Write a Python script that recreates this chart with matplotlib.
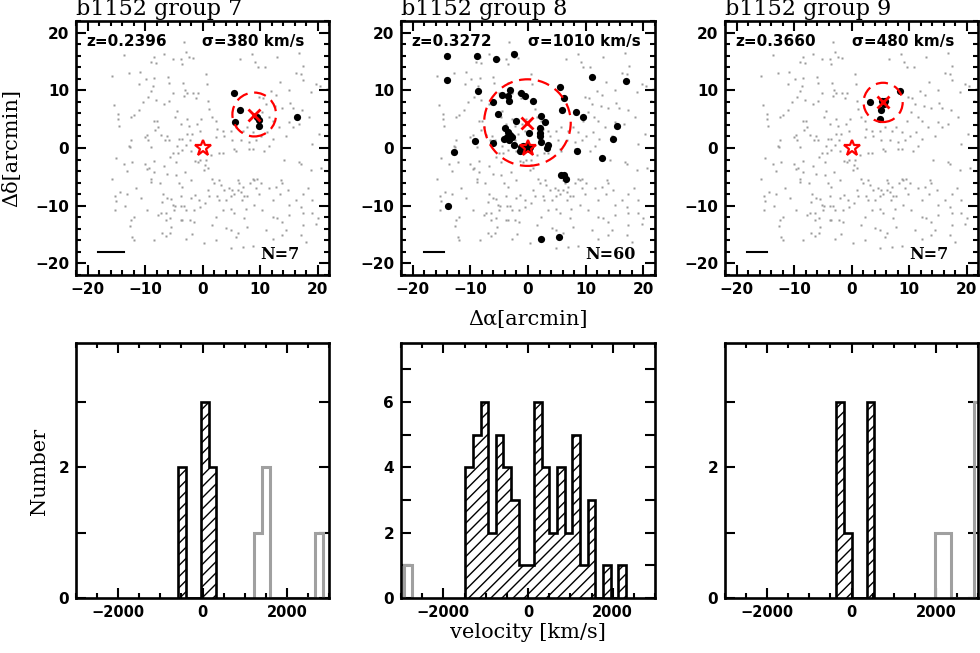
import numpy as np
import matplotlib
matplotlib.use("Agg")
import matplotlib.pyplot as plt
from matplotlib.patches import Circle
from matplotlib.ticker import MultipleLocator, FuncFormatter

# ---------------- data ----------------
bg_ra = [-3.3,-13.7,-6.7,-8.4,-9.0,-8.1,-5.1,-3.8,-2.8,-2.4,-1.7,-3.5,-15.7,-12.8,-10.8,-9.9,-8.4,-6.0,-5.9,-11.0,
         -8.6,-8.9,-9.4,-8.1,-6.7,-5.9,-5.1,-3.4,-3.0,-3.2,-2.7,-1.7,-0.8,-1.2,-15.4,-14.7,-14.7,-14.6,-12.5,-11.9,
         -11.1,-10.4,-8.5,-7.9,-7.7,-8.2,-9.6,-10.0,-9.5,-12.8,-7.3,-6.2,-5.8,-4.5,-4.7,-3.8,-2.7,-2.3,-2.7,-4.1,
         -3.5,-2.2,-1.8,-1.0,-0.3,-0.5,-4.5,-2.8,-12.5,-6.6,
         8.6,9.2,9.6,10.8,16.8,6.5,13.0,17.5,16.2,17.2,13.5,17.4,19.7,15.0,18.9,20.5,21.6,11.9,12.8,9.9,
         10.6,11.1,12.6,13.9,15.7,15.2,17.3,18.6,21.3,9.6,10.4,11.5,12.2,13.3,15.1,16.7,12.3,11.3,10.1,8.7,
         7.8,7.0,5.8,4.9,3.5,2.6,3.8,2.3,5.2,6.7,8.1,9.3,11.6,14.5,15.7,0.6,0.9,1.2,1.6,2.3,0.7,19.1,20.3,
         -12.6,-8.9,-15.0,-12.2,-13.7,-10.0,-8.5,-9.3,-9.6,-13.1,-8.5,-6.7,-5.6,-4.6,-5.1,-4.3,-3.5,-2.0,-1.3,-0.4,
         -0.8,-15.7,-11.6,-8.9,-8.9,-7.4,-6.1,-4.6,-3.0,-2.0,-4.1,-3.5,-14.4,-15.3,-15.0,-13.2,-10.7,-6.8,-6.1,-5.5,
         -7.0,-5.2,-4.8,-3.8,-3.7,-3.2,-2.0,-1.3,-0.6,-15.3,-13.5,-9.6,-7.7,-7.3,-6.4,-5.0,-2.8,-1.5,-0.5,-12.4,
         -11.9,-12.6,-6.4,-5.6,-3.8,-3.5,-2.2,-1.5,-5.4,-7.0,-6.4,-5.7,-1.9,-2.8,-12.2,-11.9,-8.4,
         0.6,0.5,0.9,0.3,1.5,2.8,3.5,5.8,5.5,8.1,8.7,10.7,14.2,16.8,17.1,18.8,20.6,1.7,2.9,2.0,
         3.2,3.8,2.6,2.8,4.1,4.6,5.2,4.9,5.5,6.1,6.4,6.1,7.0,6.7,7.3,7.8,6.8,8.7,9.0,9.4,
         8.2,9.3,10.1,9.9,11.6,12.2,13.6,13.9,14.8,12.8,13.5,15.1,16.2,17.4,18.3,17.1,19.1,0.5,0.9,1.2,
         3.5,4.9,2.3,5.5,7.5,9.0,10.4,7.3,12.2,13.0,15.1,17.4,19.1,20.0,1.6,4.1,4.9,6.1,7.8,11.0,
         13.9,14.5,17.4,19.7,2.3,5.8,7.0,8.7,4.9,12.2,13.9,17.1,18.0,0.3]
bg_dec = [18.3,16.1,16.2,15.8,14.9,14.8,15.5,15.4,16.6,15.7,15.6,14.6,12.5,13.0,13.1,12.0,12.1,12.3,11.2,11.1,
          10.7,9.8,8.8,8.4,7.6,8.2,9.5,11.3,10.1,9.0,9.5,9.5,9.6,8.6,7.5,5.9,5.0,3.8,5.3,5.8,
          6.5,8.0,4.6,4.7,3.7,3.2,2.3,1.9,1.4,0.4,2.3,2.1,1.4,6.4,5.3,4.2,5.0,3.8,2.5,1.6,
          1.6,1.4,2.4,4.2,5.0,3.0,0.4,0.6,1.3,1.3,
          16.3,14.9,14.0,14.0,16.5,15.4,15.7,14.2,13.0,12.9,11.5,11.7,11.1,10.1,9.7,10.7,10.3,9.9,9.1,8.9,
          8.7,7.6,7.2,6.9,6.9,7.8,6.6,5.3,8.2,4.7,6.2,5.3,4.7,3.6,4.5,4.2,1.6,2.7,2.1,2.7,
          3.6,3.0,3.6,3.0,3.0,3.3,2.1,1.9,1.3,1.3,1.0,1.3,0.4,2.1,3.7,12.8,8.2,6.8,5.4,4.7,11.1,0.7,2.4,
          0.1,0.1,-1.7,-2.4,-2.8,-2.7,-2.2,-3.4,-3.7,-3.9,-4.1,-3.2,-1.5,-2.4,-0.9,-0.8,-0.4,-0.5,-2.2,-2.1,
          -2.4,-5.3,-7.0,-5.4,-5.9,-6.1,-4.5,-4.6,-4.1,-5.6,-6.1,-6.8,-7.6,-8.3,-9.1,-7.9,-8.6,-7.9,-8.6,-8.8,
          -9.3,-9.9,-10.1,-8.3,-10.1,-10.1,-8.6,-8.2,-9.0,-10.8,-10.1,-10.8,-11.6,-11.3,-11.2,-10.8,-10.8,-10.8,-10.2,-12.4,
          -12.0,-13.5,-12.4,-12.1,-12.5,-12.5,-12.4,-12.8,-13.7,-14.7,-15.3,-14.8,-14.9,-15.7,-15.4,-15.9,-15.9,
          -2.1,-3.0,-3.5,-3.8,-1.2,-0.8,-0.9,-0.6,-0.2,-0.1,-0.2,-0.6,-2.1,-2.4,-2.8,-3.8,-3.4,-5.3,-5.6,-6.1,
          -6.4,-7.3,-8.4,-9.0,-9.0,-7.0,-7.3,-8.4,-7.9,-5.6,-6.1,-7.3,-6.7,-7.6,-8.4,-8.4,-9.0,-5.3,-5.6,-5.3,
          -6.1,-7.0,-6.1,-7.9,-7.0,-9.0,-5.6,-6.1,-7.3,-6.7,-7.9,-9.9,-9.0,-7.9,-7.0,-10.2,-9.0,-9.6,-7.3,-8.4,
          -10.8,-10.5,-11.9,-11.3,-10.5,-9.9,-10.8,-12.2,-11.9,-12.2,-11.6,-11.3,-11.3,-12.2,-13.4,-13.9,-14.2,-14.8,-13.6,-14.2,
          -12.8,-14.2,-13.4,-13.1,-15.9,-15.4,-17.1,-17.0,-17.4,-15.7,-15.1,-15.1,-16.2,-16.5]

group_titles = ["b1152 group 7", "b1152 group 8", "b1152 group 9"]
redshifts = ["0.2396", "0.3272", "0.3660"]
sigmas = [380, 1010, 480]
n_members = [7, 60, 7]
center_ra = [9.0, -0.1, 5.5]
center_dec = [5.8, 4.4, 7.9]
radii = [3.8, 7.5, 3.4]
scale_bar_len = [4.4, 3.5, 3.4]

g7_ra = [5.4, 6.6, 5.6, 9.8, 9.9, 16.5, 9.4]
g7_dec = [9.5, 6.6, 4.5, 4.9, 3.8, 5.4, 5.3]
g8_ra = [-14.0,-8.8,-5.6,-2.5,-14.1,-8.7,11.1,17.0,-6.1,-4.5,-3.1,-3.4,-3.3,-1.2,-0.5,0.9,5.5,6.3,5.9,8.4,
         9.5,-5.2,-2.0,2.3,3.0,-3.9,-3.5,-3.1,-2.8,-4.1,-3.3,0.1,2.1,2.1,2.0,2.3,3.5,3.3,-2.4,-1.2,
         -0.8,-1.3,-0.2,-6.0,-9.2,-12.8,8.5,12.8,14.8,15.4,5.7,6.3,6.6,-13.9,2.2,5.3,0.1,-0.6,-3.7,0.4]
g8_dec = [16.0,15.9,15.4,16.2,11.8,9.9,12.3,11.6,7.9,9.1,10.0,9.0,8.1,9.6,9.0,8.2,10.6,8.7,6.6,6.2,
          5.4,5.9,4.6,5.5,4.5,3.5,2.7,2.3,1.9,1.6,1.4,2.6,3.4,2.6,2.1,1.0,0.5,0.0,0.5,0.2,
          0.4,-0.6,0.4,0.8,1.2,-0.7,-0.6,-1.7,1.6,3.8,-4.6,-4.7,-5.4,-10.0,-15.8,-15.4,-0.1,0.0,1.9,0.1]
g9_ra = [3.2, 8.5, 5.2, 5.0, 5.6, 5.3, 5.8]
g9_dec = [8.0, 9.9, 6.6, 5.0, 7.6, 8.1, 8.2]
members_ra = [g7_ra, g8_ra, g9_ra]
members_dec = [g7_dec, g8_dec, g9_dec]

# velocity histograms (bin width ~181 km/s)
bin_width = 181
mem_start = [-579, -1484, -362]
mem_counts = [[2, 0, 0, 3, 2],
              [4, 5, 6, 2, 5, 4, 3, 1, 1, 6, 4, 2, 4, 2, 5, 1, 3, 0, 1, 0, 1],
              [3, 1, 0, 0, 3]]
non_start = [1231, -2932, 1991]
non_counts = [[1, 2, 0, 0, 0, 0, 0, 0, 1],
              [1],
              [1, 1, 0, 0, 0, 3]]
hist_ymax = [3.9, 7.8, 3.9]

# ---------------- style ----------------
plt.rcParams["hatch.linewidth"] = 1.0
tick_font = dict(family="DejaVu Sans", weight="bold", size=11)
serif = "DejaVu Serif"

W, H = 980, 653
fig = plt.figure(figsize=(W / 100, H / 100), dpi=100)

def px_axes(x0, x1, ytop, ybot):
    return fig.add_axes([x0 / W, 1 - ybot / H, (x1 - x0) / W, (ybot - ytop) / H])

xs = [(76, 329), (401, 655), (725, 978)]

def style(ax):
    for s in ax.spines.values():
        s.set_linewidth(1.9)
    ax.tick_params(which="both", direction="in", top=True, right=True, width=1.5)
    ax.tick_params(which="major", length=7, pad=5)
    ax.tick_params(which="minor", length=3.5)
    for lab in ax.get_xticklabels() + ax.get_yticklabels():
        lab.set_fontfamily(tick_font["family"])
        lab.set_fontweight(tick_font["weight"])
        lab.set_fontsize(tick_font["size"])

def minus_fmt(v, pos):
    return ("\u2212%g" % abs(v)) if v < 0 else "%g" % v

for i in range(3):
    ax = px_axes(xs[i][0], xs[i][1], 21, 275)
    ax.plot(bg_ra, bg_dec, "s", ms=2.0, color="#9a9a9a", mec="none", zorder=1)
    ax.plot(members_ra[i], members_dec[i], "o", ms=5.2, color="black", mec="none", zorder=2)
    ax.add_patch(Circle((center_ra[i], center_dec[i]), radii[i], fill=False, ec="#ff0000",
                        lw=1.6, ls=(0, (5.5, 3)), zorder=3))
    ax.plot([center_ra[i]], [center_dec[i]], "x", ms=8, mew=2, color="#ff0000", zorder=4)
    ax.plot([0], [0], "*", ms=12, mfc="none", mec="#ff0000", mew=1.6, zorder=4)
    ax.plot([-18.1, -18.1 + scale_bar_len[i]], [-18, -18], color="black", lw=1.5)
    ax.set_xlim(-22, 22)
    ax.set_ylim(-22, 22)
    ax.xaxis.set_major_locator(MultipleLocator(10))
    ax.xaxis.set_minor_locator(MultipleLocator(2))
    ax.yaxis.set_major_locator(MultipleLocator(10))
    ax.yaxis.set_minor_locator(MultipleLocator(2))
    ax.xaxis.set_major_formatter(FuncFormatter(minus_fmt))
    ax.yaxis.set_major_formatter(FuncFormatter(minus_fmt))
    style(ax)
    ax.text(-20.2, 18.4, "z=" + redshifts[i], fontsize=11, fontweight="bold",
            family="DejaVu Sans", ha="left", va="center")
    ax.text(0.0, 18.4, "\u03c3=%d km/s" % sigmas[i], fontsize=11, fontweight="bold",
            family="DejaVu Sans", ha="left", va="center")
    ax.text(10.0, -18.5, "N=%d" % n_members[i], fontsize=11.5, fontweight="bold",
            family=serif, ha="left", va="center")
    ax.text(0.0, 1.022, group_titles[i], transform=ax.transAxes, fontsize=16,
            family=serif, ha="left", va="baseline")

    hx = px_axes(xs[i][0], xs[i][1], 343, 598)
    e_mem = mem_start[i] + bin_width * np.arange(len(mem_counts[i]) + 1)
    e_non = non_start[i] + bin_width * np.arange(len(non_counts[i]) + 1)
    hx.stairs(non_counts[i], e_non, fill=False, color="#a0a0a0", lw=2.2, zorder=2)
    hx.stairs(mem_counts[i], e_mem, fill=True, facecolor="none", edgecolor="black",
              hatch="///", lw=1.9, zorder=3)
    hx.set_xlim(-3000, 3000)
    hx.set_ylim(0, hist_ymax[i])
    hx.xaxis.set_major_locator(MultipleLocator(2000))
    hx.xaxis.set_minor_locator(MultipleLocator(500))
    hx.yaxis.set_major_locator(MultipleLocator(1))
    hx.xaxis.set_major_formatter(FuncFormatter(minus_fmt))
    hx.yaxis.set_major_formatter(FuncFormatter(lambda v, p: "%d" % v if int(round(v)) % 2 == 0 else ""))
    style(hx)
    for lab in hx.get_xticklabels():
        lab.set_fontsize(10.5)

fig.text(12 / W, 1 - 148 / H, "\u0394\u03b4[arcmin]", rotation=90, family=serif,
         fontsize=15, ha="center", va="center")
fig.text(528 / W, 1 - 320 / H, "\u0394\u03b1[arcmin]", family=serif,
         fontsize=15, ha="center", va="center")
fig.text(39 / W, 1 - 471 / H, "Number", rotation=90, family=serif,
         fontsize=15, ha="center", va="center")
fig.text(528 / W, 1 - 632 / H, "velocity [km/s]", family=serif,
         fontsize=15, ha="center", va="center")

fig.savefig("out.png", dpi=100)
